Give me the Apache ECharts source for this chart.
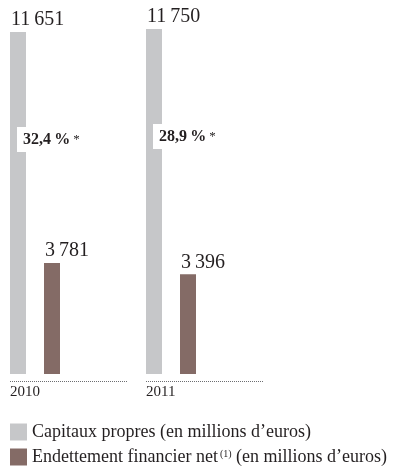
<!DOCTYPE html>
<html><head><meta charset="utf-8">
<script src="https://cdn.jsdelivr.net/npm/echarts@6/dist/echarts.min.js"></script>
<style>html,body{margin:0;padding:0;background:#fff}#c{width:399px;height:466px}</style>
</head><body><div id="c"></div>
<script>
var years = ['2010', '2011'];
var capitaux = [11651, 11750];
var endettement = [3781, 3396];
var ratios = [32.4, 28.9];
var seriesNames = ['Capitaux propres (en millions d\u2019euros)', 'Endettement financier net (en millions d\u2019euros)'];

var FONT = 'Liberation Serif';
var TXT = '#231f20';
function fmt(v) { return String(Math.round(v)).replace(/\B(?=(\d{3})+(?!\d))/g, '\u2009'); }
function fmtPct(v) { return v.toFixed(1).replace('.', ',') + '\u2009%'; }

var chart = echarts.init(document.getElementById('c'), null, { renderer: 'canvas' });
chart.setOption({
  animation: false,
  grid: { left: 10, width: 272, top: 29, bottom: 92 },
  xAxis: [
    { type: 'category', data: years, position: 'bottom', axisLine: { show: false }, axisTick: { show: false }, axisLabel: { show: false } },
    { type: 'category', data: years.concat(['']), boundaryGap: false, position: 'bottom',
      axisLine: { show: false }, axisTick: { show: false },
      axisLabel: { align: 'left', margin: 11, fontFamily: FONT, fontSize: 15, color: TXT } }
  ],
  yAxis: { type: 'value', min: 0, max: 'dataMax', show: false, splitLine: { show: false } },
  legend: {
    orient: 'vertical', left: 10, top: 423, width: 389, height: 80, itemWidth: 17, itemHeight: 17, itemGap: 7,
    padding: 0,
    icon: 'rect', data: seriesNames,
    textStyle: { fontFamily: FONT, fontSize: 18, lineHeight: 17, color: TXT,
      rich: { sup: { fontFamily: FONT, fontSize: 10, lineHeight: 17, color: TXT, padding: [0, 0, 6, 0] } } },
    formatter: function (n) {
      if (n === seriesNames[1]) return 'Endettement financier net{sup|\u2009(1)} (en millions d\u2019euros)';
      return n;
    }
  },
  series: [
    { name: seriesNames[0], type: 'bar', xAxisIndex: 0, data: capitaux, barWidth: 16, barGap: '112.5%',
      itemStyle: { color: '#c6c7c9' },
      label: { show: true, position: [1, -24], align: 'left', verticalAlign: 'top',
        formatter: function (p) {
          return '{v|' + fmt(p.value) + '}\n{g| }\n{i| }{r|' + fmtPct(ratios[p.dataIndex]) + '}{s|*}';
        },
        rich: {
          v: { fontFamily: FONT, fontSize: 20, lineHeight: 24, color: TXT },
          g: { fontSize: 10, lineHeight: 95 },
          i: { width: 6, fontSize: 10, lineHeight: 25 },
          r: { fontFamily: FONT, fontSize: 16, fontWeight: 'bold', color: TXT, lineHeight: 25, height: 25, backgroundColor: '#ffffff', padding: [0, 3, 0, 6] },
          s: { fontFamily: FONT, fontSize: 13, color: TXT, lineHeight: 25, height: 25, backgroundColor: '#ffffff', padding: [0, 6, 0, 0] }
        } } },
    { name: seriesNames[1], type: 'bar', xAxisIndex: 0, data: endettement, barWidth: 16, barGap: '112.5%',
      itemStyle: { color: '#846b66' },
      label: { show: true, position: [1, -24], align: 'left', verticalAlign: 'top',
        fontFamily: FONT, fontSize: 20, lineHeight: 24, color: TXT,
        formatter: function (p) { return fmt(p.value); } } },
    { name: 'spacer', type: 'bar', xAxisIndex: 0, data: ['-', '-'], barWidth: 68, barGap: '112.5%',
      silent: true, itemStyle: { color: 'transparent' }, label: { show: false } }
  ]
});

var c0 = chart.convertToPixel({ xAxisIndex: 0 }, years[0]);
var c1 = chart.convertToPixel({ xAxisIndex: 0 }, years[1]);
var bw = c1 - c0;
var y0 = Math.round(chart.convertToPixel({ yAxisIndex: 0 }, 0)) + 7.5;
var lines = years.map(function (y, i) {
  var x = chart.convertToPixel({ xAxisIndex: 0 }, y) - bw / 2;
  return { type: 'line', silent: true,
    shape: { x1: x, y1: y0, x2: x + bw * 117 / 136, y2: y0 },
    style: { stroke: '#6d6e71', lineWidth: 1, lineDash: [1, 1] } };
});
chart.setOption({ graphic: lines });
</script></body></html>
